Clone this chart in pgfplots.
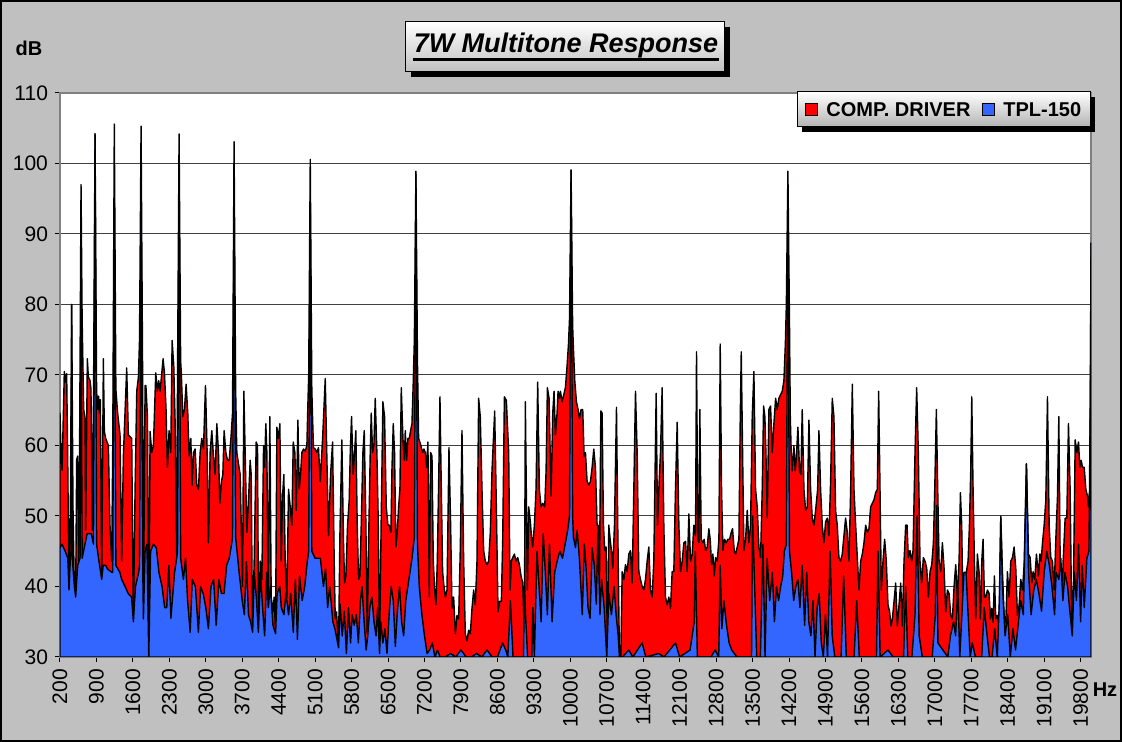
\documentclass[border=0pt]{standalone}
\usepackage{pgfplots}
\usepackage{pgfplotstable}
\pgfplotsset{compat=1.18}
\usepackage{fontspec}
\setmainfont{Liberation Sans}
\usetikzlibrary{shadows}
\definecolor{bgray}{RGB}{192,192,192}
\definecolor{cred}{RGB}{255,0,0}
\definecolor{cblue}{RGB}{51,102,255}

\pgfplotstableread{
hz db
200 64.6
220 59
240 56.5
283 70.5
303 69
328 70.2
347 59
373 39.5
399 51
424 80
450 51
476 39.5
501 38.5
520 58
540 58.5
559 43.6
578 62
604 97
625 78
655 65.1
681 64
693 48
725 72.3
745 69.7
777 69.2
795 68
820 48
843 66
873 104.2
903 67.7
924 65.1
943 67
956 64.6
975 66.5
1001 41
1033 72.3
1052 62
1078 61
1129 60
1160 48.7
1193 43.6
1213 60
1243 105.6
1273 68
1307 64.6
1353 61.5
1385 43.6
1417 58.5
1481 71
1513 61.5
1577 61
1609 35
1642 53.8
1674 67.7
1706 69.7
1727 75
1757 105.3
1787 70
1802 35.4
1834 68.5
1850 68.5
1880 64
1905 30
1930 62
1962 59
1994 60
2039 70.3
2071 67.7
2096 69.2
2122 67.7
2141 69.2
2180 72.3
2206 70.3
2237 65.1
2263 56.9
2295 62.1
2327 59
2353 74.9
2385 71.3
2411 63.3
2443 43.6
2457 70
2487 104.2
2517 72
2530 70.3
2558 64.1
2590 65.1
2622 68.7
2654 64.6
2680 58.5
2712 61
2737 54.4
2763 59
2795 59.5
2827 54.4
2859 53.8
2891 59
2923 61
2955 59.5
2994 68.5
3026 59
3051 46.2
3083 59
3115 62.1
3147 58.5
3179 55.9
3212 63.1
3244 59
3269 51.8
3301 54.9
3327 55.9
3352 62.1
3385 59
3417 57.9
3449 57.9
3487 61.5
3513 64.6
3543 103.1
3573 68
3596 59
3628 57.4
3660 55.9
3705 40
3731 67.7
3756 59
3788 47.7
3820 52.3
3852 57.9
3872 55.9
3897 33.8
3929 43.6
3968 60.5
3993 60
4013 33.8
4045 43.6
4077 41
4109 60
4128 56.9
4153 63.1
4173 59
4198 37.4
4230 64.1
4256 38.5
4288 36.4
4313 38.5
4339 33.3
4365 62.6
4397 61
4423 63.1
4448 43.6
4474 52.8
4499 55.9
4525 43.6
4557 38.5
4589 53.8
4621 51.3
4653 48.7
4679 60.5
4711 59
4737 50.8
4769 63.6
4794 53.8
4820 55.9
4845 59
4877 59.5
4909 59.2
4941 60
4961 66
4976 70
5006 100.6
5036 68
5050 64.1
5068 59.7
5100 59.5
5132 59
5164 59.7
5197 54.9
5243 61
5294 69.5
5332 55.9
5357 47.2
5396 55.9
5435 60.5
5466 43.6
5486 35.4
5511 36.4
5550 31.3
5575 47.2
5613 60.8
5645 46.2
5665 40.5
5690 41.5
5722 48.7
5754 52.3
5774 59
5799 64.1
5831 55.9
5857 59
5882 62.1
5908 48.7
5934 41
5959 41.5
5985 48.7
6017 59
6043 62.1
6075 48.7
6100 33.3
6126 46.2
6158 59
6177 64.6
6203 59
6228 60
6254 66.7
6286 59
6312 49.2
6337 31.3
6370 50.3
6401 66.2
6433 64.1
6466 51.3
6498 48.7
6523 48.7
6555 47.7
6574 56.4
6600 63.1
6625 59
6651 45.6
6677 47.7
6703 51.3
6728 53.8
6754 68.2
6786 61
6812 57.9
6831 62.1
6856 57.9
6882 61
6908 61
6933 62.1
6959 63.1
6985 69.2
7005 75
7035 98.9
7065 72
7087 61
7119 60.3
7164 59
7190 59.5
7215 59
7241 56.9
7266 60.5
7292 38.5
7318 59
7344 58.5
7369 43.6
7395 39.5
7420 37.4
7446 43.6
7472 54.9
7497 66.9
7523 53.8
7548 42.1
7574 40
7600 38.5
7632 39.5
7670 59.7
7702 48.7
7728 36.9
7760 38.5
7792 33.3
7824 35.9
7856 35.4
7888 45.6
7920 62.1
7952 43.6
7984 33.3
8016 32.3
8048 33.8
8080 33.3
8112 36.9
8144 39.5
8176 37.4
8208 43.6
8240 66.7
8272 64
8304 53.8
8336 45.1
8368 43.6
8400 43.1
8432 43.6
8464 47.7
8496 56.4
8548 64.9
8580 51.3
8612 36.4
8644 37.9
8676 37.9
8702 46.7
8734 66.9
8772 66.4
8817 59
8843 39.5
8868 43.6
8894 44.1
8926 44.6
8958 43.6
8990 44.1
9022 43.1
9054 41.5
9086 40.5
9118 33.3
9137 66.2
9176 39.5
9201 51.3
9233 49.2
9253 47.2
9278 45.6
9310 48.7
9342 53.8
9374 69
9406 53.8
9438 51.3
9471 51.8
9509 51.3
9535 56.4
9560 68.2
9592 66.7
9631 52.8
9663 64.6
9688 67.7
9714 61.5
9746 64.6
9765 67.7
9791 66.7
9810 67.7
9842 66.2
9874 67.2
9906 68.2
9938 71.3
9965 74.4
9985 78
10015 99.1
10045 77
10060 73.8
10086 69.2
10118 66.2
10150 65.1
10175 63.8
10207 65.1
10239 65.1
10265 58.5
10291 59
10323 54.9
10355 54.4
10387 54.9
10419 56.9
10451 59.5
10483 56.9
10515 48.7
10534 48.7
10560 40.5
10586 64.9
10611 64.6
10637 48.7
10662 45.1
10688 45.6
10714 30
10739 48.7
10765 46.7
10790 45.1
10816 42.6
10848 48.7
10887 65.4
10912 48.2
10944 30
10970 30
10996 42.1
11028 41
11060 43.1
11092 42.1
11124 44.6
11156 45.1
11188 40.5
11220 53.8
11252 67.7
11284 59
11316 42.1
11348 41
11380 40
11412 39.5
11444 41
11476 43.6
11508 45.6
11540 39.5
11572 38.5
11604 43.6
11649 67.4
11675 48.7
11700 53.8
11732 59
11764 68.2
11796 48.7
11828 38.5
11860 37.4
11892 38.5
11924 36.9
11956 42.1
11988 42.1
12020 53.8
12053 63.3
12085 48.7
12117 42.1
12149 43.6
12181 46.2
12213 46.4
12245 42.1
12277 50.3
12309 43.6
12341 44.6
12373 48.7
12405 47.2
12424 73.3
12450 46.7
12469 46.2
12488 65.1
12514 46.7
12546 46.2
12572 46.7
12597 45.1
12629 45.6
12661 48.2
12687 46.7
12713 43.1
12738 44.6
12764 41.5
12790 44.1
12822 43.6
12854 46.7
12879 74.4
12905 53.8
12930 45.1
12962 46.7
12994 46.2
13026 46.7
13059 46.7
13091 47.7
13116 48.2
13148 45.1
13174 44.6
13206 45.6
13238 46.7
13264 64.1
13283 73.3
13309 59
13334 45.1
13366 46.7
13398 50.8
13430 46.2
13462 48.7
13494 64.1
13526 70.5
13558 53.8
13590 51.3
13622 45.6
13654 44.1
13686 53.8
13712 65.6
13737 64.1
13757 59
13782 49.7
13814 65.1
13846 65.6
13878 59
13910 63.1
13943 66.7
13974 65.1
14006 66.7
14038 67.2
14070 67.7
14102 69.2
14130 74.4
14149 80
14179 98.9
14209 78
14225 64.1
14243 59
14262 56.4
14294 60
14320 56.4
14346 59
14371 62.6
14403 56.4
14429 55.9
14454 65.1
14487 53.8
14519 50.8
14551 51.3
14583 63.6
14615 53.8
14647 49.7
14679 48.7
14711 50.8
14750 53.8
14775 62.1
14807 53.8
14839 48.7
14871 46.2
14903 49.2
14935 49.7
14967 47.2
14999 54.9
15031 66.7
15063 64.1
15095 50.8
15127 48.7
15159 44.1
15191 43.6
15223 44.6
15255 47.2
15287 49.7
15319 47.7
15352 43.6
15384 53.8
15416 68.7
15448 53.8
15480 48.7
15512 44.1
15544 39.5
15576 43.6
15608 44.6
15640 46.2
15672 48.7
15704 47.7
15736 48.2
15768 51.3
15800 51.8
15832 52.3
15864 53.3
15896 53.8
15922 67.7
15948 53.8
15973 39.5
16005 43.6
16037 46.7
16069 43.6
16101 37.4
16133 36.4
16159 34.4
16185 35.4
16217 37.9
16249 40.5
16281 34.4
16313 37.4
16345 40.5
16377 34.4
16409 43.6
16441 48.7
16467 48.7
16492 44.1
16524 45.1
16556 43.6
16582 45.1
16620 59
16652 68.2
16684 59
16716 43.6
16748 40.5
16780 44.1
16812 43.6
16845 42.6
16877 38.5
16909 42.1
16941 43.1
16973 46.2
16999 53.8
17030 65.1
17056 53.8
17082 43.6
17114 42.1
17146 46.2
17178 42.6
17210 36.4
17242 39.5
17274 39
17306 35.9
17338 35.4
17370 40
17402 43.1
17434 38.5
17466 43.6
17492 53.3
17517 48.7
17543 35.4
17575 37.4
17607 42.1
17639 43.6
17665 48.7
17690 56.4
17710 66.9
17735 53.8
17761 43.6
17786 35.4
17818 44.6
17850 42.1
17876 35.4
17902 43.6
17927 46.7
17953 38.5
17979 38.5
18011 39.5
18043 39
18069 35.4
18094 36.9
18120 34.9
18145 41.5
18171 35.4
18203 35.9
18235 34.4
18267 50
18299 42.1
18331 35.9
18363 34.9
18395 42.1
18427 38.5
18459 43.6
18491 44.1
18523 45.6
18555 42.6
18587 35.9
18619 37.4
18651 41
18683 39.5
18716 43.1
18760 57.4
18799 44.6
18831 44.1
18863 40.5
18888 42.1
18920 41
18952 44.6
18991 41.5
19017 44.6
19042 43.6
19068 46.2
19100 48.7
19132 52.3
19164 66.9
19196 48.7
19228 44.1
19260 43.6
19292 39.5
19324 46.7
19356 52.8
19382 64.1
19408 43.6
19433 35.9
19465 43.6
19503 49.7
19535 49.7
19567 63.1
19599 53.8
19632 33.3
19664 41
19696 60.8
19728 59
19760 60.5
19785 56.9
19811 57.9
19837 56.9
19869 56.9
19901 53.8
19933 52.8
19952 51.3
19978 53.8
20000 88.7
}\reddata

\pgfplotstableread{
hz db
200 45.5
240 46
300 45
350 44
373 39.5
399 44
412 45
424 80
436 44
476 40
501 38.5
540 43
585 44
604 83
625 44
680 46
720 47.5
800 47.5
843 46
873 104.2
903 46
940 44
1001 41
1030 43
1080 43
1110 42.5
1200 42
1213 42
1243 94.4
1273 43
1350 42
1385 41
1450 40
1510 39
1575 38.5
1609 35
1650 40
1710 42
1727 43
1757 93.3
1787 44
1802 35.4
1834 45
1870 46
1905 30
1940 45
1994 46
2050 45.5
2100 42
2160 40
2210 37
2250 37
2290 43
2330 35.5
2400 42
2440 44
2457 45
2487 96.4
2517 44
2570 41
2610 44
2650 38
2700 33.5
2740 41
2800 40
2858 33.5
2900 40
2950 39
3000 37
3050 34
3100 40
3150 41
3200 34.5
3250 41
3300 39
3350 39
3400 43
3450 44
3495 46
3513 47
3543 94.4
3573 47
3600 45
3640 42
3700 38
3740 36
3780 43.5
3820 36
3860 35
3900 33.5
3930 42
3970 38.5
4010 33.5
4050 42
4090 37
4130 33
4170 42
4200 37
4240 40
4290 34.5
4340 33.3
4370 39
4420 40
4450 37
4500 36
4540 39
4590 36
4630 39
4680 33.5
4720 41
4760 32.5
4800 41.5
4850 38
4900 40
4950 43.6
4976 45
5006 94.4
5036 45
5100 44
5200 44
5260 40
5300 42.5
5340 37
5380 40
5440 35
5480 34
5550 31.3
5580 37.5
5620 33
5660 36.5
5700 30.5
5740 37
5780 32
5810 36
5850 34.5
5890 36
5930 32
5970 38
6000 40
6040 35
6080 31
6110 33
6150 37
6190 38.5
6230 35
6270 33
6300 37
6337 30.5
6360 35
6400 32
6440 34
6480 30.5
6520 36
6560 40
6600 38
6640 31.5
6680 36.5
6720 40
6760 35
6800 33
6840 38
6880 40
6920 42
6960 44
6990 46
7005 47
7035 98.5
7065 46
7100 40
7150 36
7200 33
7250 30.5
7300 31
7350 32
7400 30
7450 31
7500 30
7600 30
7700 30.5
7800 30
7900 31
8000 30
8100 30
8200 30.5
8300 30
8400 31
8500 30
8600 30
8700 32
8760 31
8800 30
8850 38
8900 30
9100 30
9120 40
9140 36
9180 30
9260 30
9280 37
9310 30
9360 45
9400 40
9440 35
9480 47.5
9520 42
9560 36
9600 46
9650 35
9700 42
9760 44
9800 45
9850 44
9900 46
9950 48
9985 50
10015 99
10045 50
10060 47
10100 45.5
10130 48
10175 44
10230 36
10270 46
10300 43
10340 37
10380 35.5
10420 45.5
10460 43
10500 37.5
10530 47.5
10570 36
10600 41
10650 37
10700 30
10740 39
10790 36
10840 40
10880 36
10920 33
10944 30
11000 30
11124 31
11200 30
11380 32
11450 30
11700 30.5
11800 30
12020 32
12100 30
12300 31
12380 35
12400 45
12440 30
12700 30
12780 31
12850 30
12879 43
12910 34
12950 38
13000 34.5
13050 32
13100 31
13200 30
13480 30
13500 50
13540 40
13580 30
13650 30
13700 46
13740 30
13780 44
13830 38
13880 42
13920 35
13960 40
14000 38
14040 40
14080 41.5
14110 45
14149 46
14179 93.3
14209 45
14250 42
14290 38
14330 40
14370 41
14410 37
14454 43
14500 34.5
14540 42
14580 35
14620 33
14660 38
14700 30
14740 37
14780 39
14820 32
14860 30
14900 36
14940 30
14990 45
15030 33
15080 30
15200 30
15250 41.5
15300 30
15450 30
15500 38
15550 30
15880 30
15910 45
15950 30
16100 31
16200 30
16400 30
16440 40
16480 30
16560 30
16620 36
16660 50
16700 33
16760 30
16950 30
17010 36
17035 51.5
17060 32
17250 30
17300 33
17360 35
17400 33
17440 40
17480 30
17520 36
17560 42
17600 42
17640 36
17680 30
17720 32
17780 30
17900 30
17950 37
17990 34
18050 30
18100 30
18150 34
18200 30
18240 38
18267 49.7
18300 40
18350 33
18400 36
18450 30
18500 34
18550 31
18600 34.5
18650 38
18700 36
18760 57.4
18800 42
18850 36
18900 39.5
18950 41
19000 39
19050 36.5
19100 42
19150 45
19200 43
19250 40
19300 36
19330 42
19382 41
19420 44
19460 38
19500 42
19550 40
19600 36
19640 33
19680 42
19720 38
19760 46
19800 35
19830 43
19870 37
19920 44
19960 45
19990 70
20000 88.7
}\bluedata

\begin{document}
\begin{tikzpicture}
\fill[bgray] (-30pt,-42.5pt) rectangle (531pt,328.5pt);
\draw[black, line width=1pt] (-29.5pt,-42pt) rectangle (530.5pt,328pt);
\begin{axis}[
  at={(0,0)}, anchor=south west,
  scale only axis, width=515.5pt, height=282pt,
  xmin=200, xmax=20000, ymin=30, ymax=110,
  xtick={200,900,...,19800},
  ytick={30,40,...,110},
  scaled x ticks=false,
  /pgf/number format/1000 sep={},
  /pgf/number format/assume math mode=true,
  ymajorgrids,
  grid style={black!75, line width=0.5pt},
  axis background/.style={fill=white},
  axis line style={black!50, line width=1pt},
  tick style={black, line width=0.5pt},
  tick align=outside, major tick length=2.5pt,
  xtick pos=bottom, ytick pos=left,
  ticklabel style={font=\fontsize{10.5}{12}\selectfont},
  xticklabel style={rotate=90, anchor=east},
]
\addplot[fill=cred, draw=black, line width=0.7pt, line join=round] table[x=hz, y=db] {\reddata} \closedcycle;
\addplot[fill=cblue, draw=black, line width=0.7pt, line join=round] table[x=hz, y=db] {\bluedata} \closedcycle;
\end{axis}
% legend
\fill[black] (371pt,262.5pt) rectangle (517.5pt,280pt);
\shade[top color=white, bottom color=black!30] (368.5pt,265pt) rectangle (515pt,282.5pt);
\draw[black, line width=0.5pt] (368.5pt,265pt) rectangle (515pt,282.5pt);
\draw[fill=cred, draw=black, line width=0.5pt] (372.5pt,270.75pt) rectangle (378.5pt,276.75pt);
\node[anchor=base west, inner sep=0pt, font=\bfseries\fontsize{10}{12}\selectfont] at (383pt,270pt) {COMP. DRIVER};
\draw[fill=cblue, draw=black, line width=0.5pt] (461pt,270.75pt) rectangle (467pt,276.75pt);
\node[anchor=base west, inner sep=0pt, font=\bfseries\fontsize{10}{12}\selectfont] at (471.5pt,270pt) {TPL-150};
% title
\node[draw=black, line width=0.5pt, top color=white, bottom color=black!25,
  drop shadow={shadow xshift=3pt, shadow yshift=-2.5pt, fill=black, opacity=1},
  minimum width=159.5pt, minimum height=25pt, inner sep=0pt] at (252.25pt,305pt) {};
\node[inner sep=0pt, anchor=base, font=\bfseries\itshape\fontsize{13.5}{15}\selectfont] (tt) at (253pt,302pt) {7W Multitone Response};
\draw[line width=1.4pt] ([yshift=-3.2pt]tt.base west) -- ([yshift=-3.2pt]tt.base east);
\node[font=\bfseries\fontsize{10}{12}\selectfont] at (-15.5pt,304.5pt) {dB};
\node[font=\bfseries\fontsize{10}{12}\selectfont] at (522.5pt,-16.5pt) {Hz};
\pgfresetboundingbox
\path[use as bounding box] (-30pt,-42.5pt) rectangle (531pt,328.5pt);
\end{tikzpicture}
\end{document}
